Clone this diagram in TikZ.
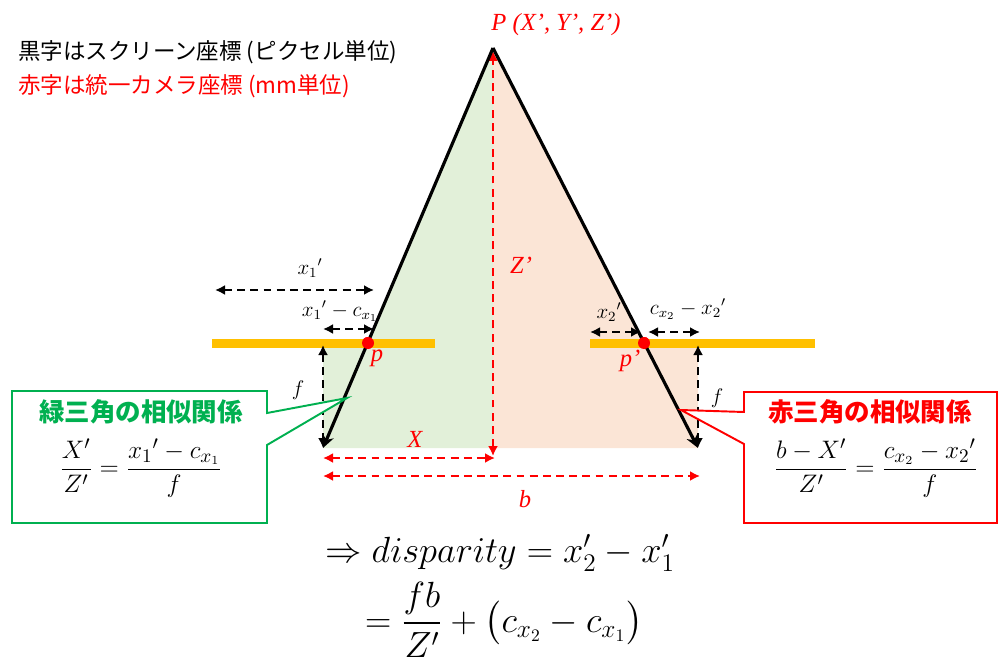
\documentclass[tikz,border=0pt]{standalone}
\usepackage{amsmath}
\usepackage{fontspec}
\newfontfamily\jpfont{Noto Sans CJK JP}
\newfontfamily\timesit{Liberation Serif}
\usetikzlibrary{arrows.meta,calc}

\definecolor{planeyellow}{HTML}{FFC000}
\definecolor{boxgreen}{HTML}{00B050}
\definecolor{greenfill}{HTML}{E2F0D9}
\definecolor{orangefill}{HTML}{FBE5D6}

\begin{document}
\begin{tikzpicture}[x=0.02cm,y=-0.02cm,
	dim/.style={line width=1.1pt,dash pattern=on 4.5pt off 3pt,{Latex[length=2mm,width=2mm]}-{Latex[length=2mm,width=2mm]}},
	reddim/.style={dim,red},
	ray/.style={line width=1.8pt,-{Stealth[length=2.6mm,width=2.4mm]}},
	plane/.style={line width=5pt,planeyellow},
	dot/.style={circle,fill=red,inner sep=0pt,minimum size=2.4mm},
	lbl/.style={font=\fontsize{11.5}{13}\selectfont},
	redlbl/.style={text=red,font=\timesit\itshape\fontsize{14}{16}\selectfont},
	result/.style={anchor=base,inner sep=0pt,font=\fontsize{19.5}{23}\selectfont},
	calloutline/.style={line width=1.1pt,fill=white}]
	\useasboundingbox (0,0) rectangle (999,665);
	% header
	\node[anchor=west,font=\jpfont\fontsize{12.8}{14}\selectfont] (hblack) at (12,52) {黒字はスクリーン座標 (ピクセル単位)};
	\node[anchor=west,font=\jpfont\fontsize{12.8}{14}\selectfont,text=red] (hred) at (12,86) {赤字は統一カメラ座標 (mm単位)};
	% point and camera corners
	\coordinate (P) at (493,48);
	\coordinate (L) at (323,448);
	\coordinate (R) at (698,448);
	\coordinate (O) at (493,448);
	\node[dot] (p1) at (368,343) {};
	\node[dot] (p2) at (644,343) {};
	% similar triangles
	\fill[greenfill] (P) -- (p1.center) -- (323,343) -- (L) -- (O) -- cycle;
	\fill[orangefill] (P) -- (p2.center) -- (698,343) -- (R) -- (O) -- cycle;
	% image planes
	\draw[plane] (212,343.5) -- (435,343.5);
	\draw[plane] (590,343.5) -- (815,343.5);
	% pixel distances
	\draw[dim] (215,290) -- (374,290);
	\draw[dim] (323,329) -- (374,329);
	\draw[dim] (590,332) -- (641,332);
	\draw[dim] (648,332) -- (700,332);
	\draw[dim] (323,345) -- (L);
	\draw[dim] (698,345) -- (R);
	\node[lbl] (x1) at (310,268) {$x_1{}'$};
	\node[lbl] (x1c) at (340,311) {$x_1{}'-c_{x_1}$};
	\node[lbl] (x2) at (609,312) {$x_2{}'$};
	\node[lbl] (cx2) at (688,309) {$c_{x_2}-x_2{}'$};
	\node[lbl] (f1) at (298,390) {$f$};
	\node[lbl] (f2) at (717,398) {$f$};
	% metric distances
	\draw[reddim] (493,456) -- (493,51);
	\draw[reddim] (323,458) -- (495,458);
	\draw[reddim] (323,476) -- (700,476);
	\node[redlbl] (Zl) at (521,265) {Z’};
	\node[redlbl] (Xl) at (415,439) {X};
	\node[redlbl] (bl) at (525,499) {b};
	\node[redlbl] (Pl) at (556,25) {P (X’, Y’, Z’)};
	% rays
	\draw[ray] (P) -- (L);
	\draw[ray] (P) -- (R);
	\node[dot] at (p1) {};
	\node[dot] at (p2) {};
	\node[redlbl] (pl) at (377,358) {p};
	\node[redlbl] (pl2) at (630,361) {p’};
	% callouts
	\coordinate (gtip) at (347,398);
	\coordinate (rtip) at (681,410);
	\draw[calloutline,draw=boxgreen] (12,391) -- (267,391) -- (267,413) -- (gtip) -- (267,445) -- (267,523) -- (12,523) -- cycle;
	\draw[calloutline,draw=red] (744,392) -- (997,392) -- (997,523) -- (744,523) -- (744,444) -- (rtip) -- (744,412) -- cycle;
	\node[font=\jpfont\bfseries\fontsize{14.5}{16}\selectfont,text=boxgreen] (gtitle) at (141,412) {緑三角の相似関係};
	\node[font=\fontsize{15}{18}\selectfont] (geq) at (141,468) {$\dfrac{X'}{Z'}=\dfrac{x_1{}'-c_{x_1}}{f}$};
	\node[font=\jpfont\bfseries\fontsize{14.5}{16}\selectfont,text=red] (rtitle) at (870,412) {赤三角の相似関係};
	\node[font=\fontsize{15}{18}\selectfont] (req) at (876,468) {$\dfrac{b-X'}{Z'}=\dfrac{c_{x_2}-x_2{}'}{f}$};
	% result
	\node[result] (disp) at (500,562) {$\Rightarrow disparity=x_2'-x_1'$};
	\node[result] (res) at (504,632) {$=\dfrac{fb}{Z'}+\bigl(c_{x_2}-c_{x_1}\bigr)$};
\end{tikzpicture}
\end{document}
